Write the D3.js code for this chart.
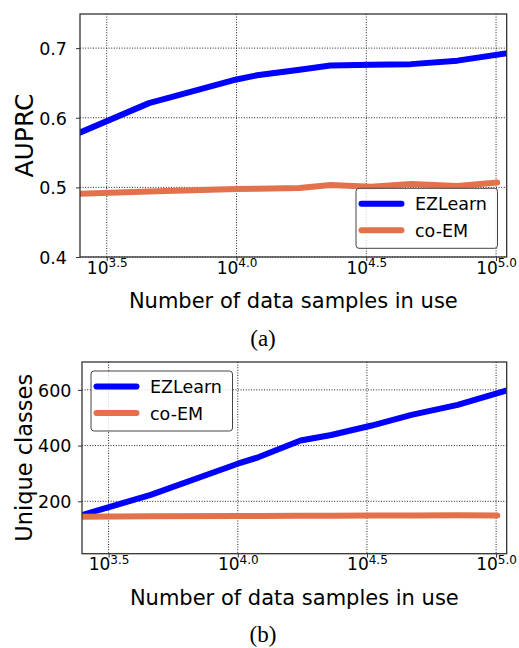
<!DOCTYPE html>
<html>
<head>
<meta charset="utf-8">
<script src="https://cdn.jsdelivr.net/npm/d3@7"></script>
<style>
  body { margin: 0; background: #fff; }
  svg text { font-family: "DejaVu Sans", sans-serif; fill: #000; }
</style>
</head>
<body>
<div id="chart"></div>
<script>
// data
const samplesEZ   = [2500, 4600, 10000, 12000, 17500, 23000, 33000, 47000, 71000, 112000];
const samplesCoEM = [2500, 4600, 10000, 12000, 17500, 23000, 33000, 47000, 71000, 101000];
const auprcEZ     = [0.579, 0.621, 0.655, 0.661, 0.669, 0.675, 0.676, 0.677, 0.682, 0.693];
const auprcCoEM   = [0.491, 0.494, 0.4975, 0.498, 0.499, 0.5035, 0.501, 0.505, 0.502, 0.507];
const classesEZ   = [151, 223, 335, 358, 418, 438, 472, 510, 546, 600];
const classesCoEM = [145, 146, 147, 147, 148, 148, 149, 149, 150, 149];
const xTickExp    = ["3.5", "4.0", "4.5", "5.0"];
const auprcTicks  = [0.4, 0.5, 0.6, 0.7];
const classTicks  = [200, 400, 600];
const seriesNames = ["EZLearn", "co-EM"];
const seriesColors = ["#0000ff", "#e3714b"];

const width = 519, height = 648;
const svg = d3.select("#chart").append("svg")
    .attr("width", width)
    .attr("height", height);

function drawPanel(opt) {
    let x = d3.scaleLog()
        .domain([Math.pow(10, 3.397), Math.pow(10, 5.041)])
        .range([opt.left, opt.right]);
    let y = d3.scaleLinear()
        .domain(opt.yDomain)
        .range([opt.bottom, opt.top]);

    let g = svg.append("g");
    let clipId = "clip-" + opt.id;
    g.append("clipPath").attr("id", clipId)
        .append("rect")
        .attr("x", opt.left).attr("y", opt.top)
        .attr("width", opt.right - opt.left)
        .attr("height", opt.bottom - opt.top);

    let xTicks = xTickExp.map(e => Math.pow(10, +e));

    // grid
    g.append("g").selectAll("line").data(xTicks).join("line")
        .attr("x1", d => x(d)).attr("x2", d => x(d))
        .attr("y1", opt.top).attr("y2", opt.bottom)
        .attr("stroke", "#222").attr("stroke-width", 1)
        .attr("stroke-dasharray", "1,1.6");
    g.append("g").selectAll("line").data(opt.yTicks).join("line")
        .attr("x1", opt.left).attr("x2", opt.right)
        .attr("y1", d => y(d)).attr("y2", d => y(d))
        .attr("stroke", "#222").attr("stroke-width", 1)
        .attr("stroke-dasharray", "1,1.6");

    // lines
    let line = d3.line().x(d => x(d[0])).y(d => y(d[1]));
    let plot = g.append("g").attr("clip-path", "url(#" + clipId + ")");
    opt.series.forEach((s, i) => {
        plot.append("path")
            .datum(d3.zip(s.xs, s.ys))
            .attr("d", line)
            .attr("fill", "none")
            .attr("stroke", seriesColors[i])
            .attr("stroke-width", 6)
            .attr("stroke-linecap", "round")
            .attr("stroke-linejoin", "round");
    });

    // axes
    let xAxis = d3.axisBottom(x).tickValues(xTicks).tickSizeInner(4).tickSizeOuter(0).tickPadding(3);
    let xAx = g.append("g").attr("transform", "translate(0," + opt.bottom + ")").call(xAxis);
    xAx.select(".domain").remove();
    xAx.selectAll(".tick line").attr("stroke", "#333");
    xAx.selectAll(".tick text").each(function(d, i) {
        let t = d3.select(this).text(null)
            .attr("y", null).attr("dy", null)
            .attr("transform", "translate(0,16.5)")
            .style("font-size", "17px");
        t.append("tspan").text("10");
        t.append("tspan").text(xTickExp[i])
            .attr("dy", -6.7).style("font-size", "12px");
    });

    let yAxis = d3.axisLeft(y).tickValues(opt.yTicks).tickFormat(opt.yFormat)
        .tickSizeInner(4).tickSizeOuter(0).tickPadding(opt.yPad);
    let yAx = g.append("g").attr("transform", "translate(" + opt.left + ",0)").call(yAxis);
    yAx.select(".domain").remove();
    yAx.selectAll(".tick line").attr("stroke", "#333");
    yAx.selectAll(".tick text").style("font-size", "17.5px").attr("dy", "0.36em");

    // frame
    g.append("rect")
        .attr("x", opt.left).attr("y", opt.top)
        .attr("width", opt.right - opt.left)
        .attr("height", opt.bottom - opt.top)
        .attr("fill", "none").attr("stroke", "#333").attr("stroke-width", 1.3);

    // axis labels
    g.append("text")
        .attr("x", (opt.left + opt.right) / 2)
        .attr("y", opt.bottom + 51)
        .attr("text-anchor", "middle")
        .style("font-size", "21px")
        .text("Number of data samples in use");
    g.append("text")
        .attr("transform", "translate(" + opt.yLabelX + "," + ((opt.top + opt.bottom) / 2) + ") rotate(-90)")
        .attr("text-anchor", "middle")
        .style("font-size", opt.yLabelSize + "px")
        .text(opt.yLabel);

    // legend
    let lg = g.append("g").attr("transform", "translate(" + opt.legend[0] + "," + opt.legend[1] + ")");
    lg.append("rect")
        .attr("width", 141.5).attr("height", 60)
        .attr("rx", 3).attr("ry", 3)
        .attr("fill", "#fff").attr("fill-opacity", 0.8)
        .attr("stroke", "#444").attr("stroke-width", 1);
    seriesNames.forEach((name, i) => {
        let ly = 15.5 + i * 26.5;
        lg.append("line")
            .attr("x1", 5.5).attr("x2", 45.5)
            .attr("y1", ly).attr("y2", ly)
            .attr("stroke", seriesColors[i]).attr("stroke-width", 6)
            .attr("stroke-linecap", "round");
        lg.append("text")
            .attr("x", 59).attr("y", ly + 6.5)
            .style("font-size", "17.5px")
            .text(name);
    });

    // caption
    svg.append("text")
        .attr("x", 263).attr("y", opt.captionY)
        .attr("text-anchor", "middle")
        .style("font-family", "'Liberation Serif', serif")
        .style("font-size", "23px")
        .text(opt.caption);
}

drawPanel({
    id: "a", left: 80, right: 506.7, top: 14, bottom: 257,
    yDomain: [0.4, 0.749], yTicks: auprcTicks, yFormat: d3.format(".1f"), yPad: 9,
    yLabel: "AUPRC", yLabelX: 33, yLabelSize: 25,
    series: [{xs: samplesEZ, ys: auprcEZ}, {xs: samplesCoEM, ys: auprcCoEM}],
    legend: [356, 188.3], caption: "(a)", captionY: 346
});

drawPanel({
    id: "b", left: 82, right: 506.7, top: 362, bottom: 553.7,
    yDomain: [12, 700], yTicks: classTicks, yFormat: d3.format("d"), yPad: 6.5,
    yLabel: "Unique classes", yLabelX: 32, yLabelSize: 22.5,
    series: [{xs: samplesEZ, ys: classesEZ}, {xs: samplesCoEM, ys: classesCoEM}],
    legend: [91, 371], caption: "(b)", captionY: 642
});
</script>
</body>
</html>
